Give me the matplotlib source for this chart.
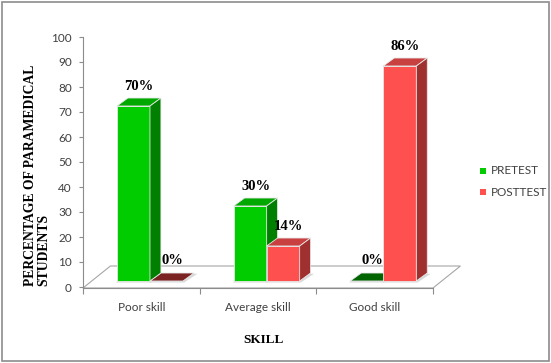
import matplotlib.pyplot as plt
from matplotlib.patches import Polygon, Rectangle

# data
categories = ['Poor skill', 'Average skill', 'Good skill']
series_names = ['PRETEST', 'POSTTEST']
pretest = [70, 30, 0]
posttest = [0, 14, 86]
yticks = list(range(0, 101, 10))

# 3D look (data units)
bar_w = 0.283
bar_x0 = 0.291
base = 2.4
ddx, ddy = 0.094, 3.2
fdx, fdy = 0.235, 8.4

front = ['#00CC00', '#FF5050']
top = ['#00A800', '#C84040']
side = ['#008000', '#A03030']
flat = ['#006400', '#7B2222']
axis_gray = '#8C8C8C'
text_gray = '#404040'

fig = plt.figure(figsize=(5.51, 3.63), dpi=100)
ax = fig.add_axes([83 / 551, 76 / 363, 350 / 551, 250 / 363])
ax.set_xlim(0, 3)
ax.set_ylim(0, 100)

# floor
floor = Polygon([(0, -0.4), (3, -0.4), (3 + fdx, fdy), (fdx, fdy)], closed=True,
                facecolor='white', edgecolor='#A6A6A6', lw=0.8, clip_on=False, zorder=1)
ax.add_patch(floor)

for s, vals in enumerate([pretest, posttest]):
    for i, v in enumerate(vals):
        x0 = i + bar_x0 + s * bar_w
        # soft shadow on floor
        ax.add_patch(Polygon([(x0 - 0.01, base - 0.6), (x0 + bar_w + 0.01, base - 0.6),
                              (x0 + bar_w + ddx + 0.03, base + ddy - 0.3), (x0 + ddx, base + ddy - 0.3)],
                             closed=True, facecolor='#D9D9D9', edgecolor='none', zorder=2, clip_on=False))
        if v == 0:
            ax.add_patch(Polygon([(x0, base), (x0 + bar_w, base), (x0 + bar_w + ddx, base + ddy),
                                  (x0 + ddx, base + ddy)], closed=True, facecolor=flat[s],
                                 edgecolor='#E8E8E8', lw=0.6, zorder=3, clip_on=False))
        else:
            ax.bar(x0, v, width=bar_w, bottom=base, align='edge', color=front[s],
                   edgecolor='#E8E8E8', lw=0.6, zorder=4)
            ax.add_patch(Polygon([(x0, base + v), (x0 + bar_w, base + v),
                                  (x0 + bar_w + ddx, base + v + ddy), (x0 + ddx, base + v + ddy)],
                                 closed=True, facecolor=top[s], edgecolor='#E8E8E8', lw=0.6,
                                 zorder=4, clip_on=False))
            ax.add_patch(Polygon([(x0 + bar_w, base), (x0 + bar_w + ddx, base + ddy),
                                  (x0 + bar_w + ddx, base + v + ddy), (x0 + bar_w, base + v)],
                                 closed=True, facecolor=side[s], edgecolor='#E8E8E8', lw=0.6,
                                 zorder=4, clip_on=False))
        ax.text(x0 + bar_w / 2 + ddx / 2, base + v + ddy + 4.8, f'{v}%', ha='center', va='center',
                family='Liberation Serif', fontweight='bold', fontsize=10.5, color='black',
                zorder=6, clip_on=False)

# axes styling
for sp in ['top', 'right']:
    ax.spines[sp].set_visible(False)
ax.spines['left'].set_color(axis_gray)
ax.spines['bottom'].set_color(axis_gray)
ax.spines['bottom'].set_position(('data', -0.4))
ax.set_yticks(yticks)
ax.set_yticklabels([str(t) for t in yticks], family='Lato', fontsize=8.5, color=text_gray)
ax.tick_params(axis='y', length=3, width=0.8, color=axis_gray, pad=5)
ax.set_xticks([0, 1, 2, 3])
ax.set_xticklabels([])
ax.tick_params(axis='x', which='major', length=4, width=0.8, color=axis_gray, direction='out')
ax.set_xticks([0.5, 1.5, 2.5], minor=True)
ax.set_xticklabels(categories, minor=True, family='Lato', fontsize=8.5, color=text_gray)
ax.tick_params(axis='x', which='minor', length=0, pad=10)
ax.patch.set_visible(False)

# axis titles
fig.text(37 / 551, 1 - 286 / 363, 'PERCENTAGE OF PARAMEDICAL\nSTUDENTS', rotation=90,
         ha='center', va='bottom', multialignment='left', family='Liberation Serif',
         fontweight='bold', fontsize=9.8, linespacing=1.0)
fig.text(264 / 551, 1 - 340 / 363, 'SKILL', ha='center', va='center',
         family='Liberation Serif', fontweight='bold', fontsize=9.5)

# legend
for s, name in enumerate(series_names):
    yy = 1 - (171 + s * 21) / 363
    fig.patches.append(Rectangle((480 / 551, yy - 3 / 363), 6 / 551, 6 / 363,
                                 transform=fig.transFigure, facecolor=front[s], edgecolor='none'))
    fig.text(491 / 551, yy, name, ha='left', va='center', family='Lato', fontsize=8.5, color=text_gray)

# outer border
fig.patches.append(Rectangle((2 / 551, 2 / 363), 547 / 551, 359 / 363, transform=fig.transFigure,
                             fill=False, edgecolor='#8C8C8C', lw=1.2))

fig.savefig('out.png', dpi=100)
